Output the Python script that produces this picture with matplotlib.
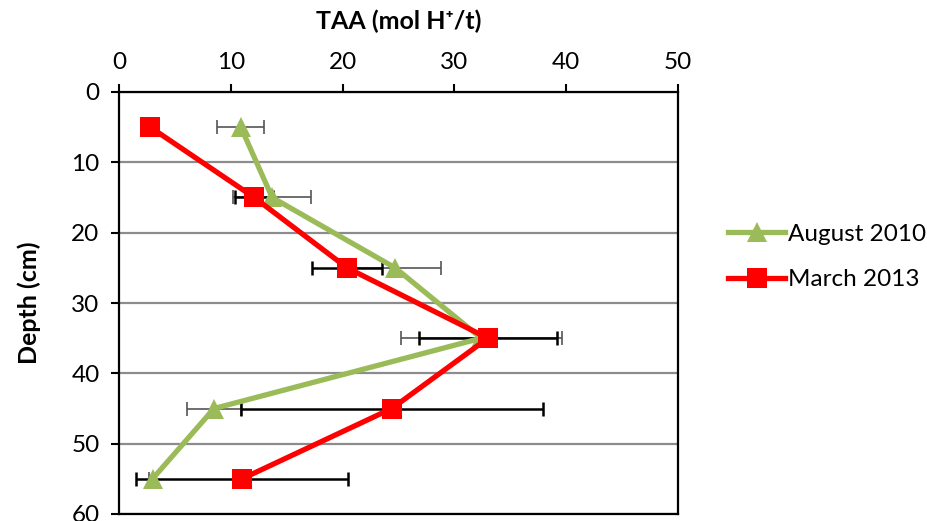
import matplotlib
matplotlib.use("Agg")
import matplotlib.pyplot as plt

depth = [5, 15, 25, 35, 45, 55]
aug_2010 = [10.9, 13.7, 24.7, 32.4, 8.5, 3.0]
aug_2010_err = [2.1, 3.5, 4.1, 7.2, 2.4, 0.3]
mar_2013 = [2.8, 12.1, 20.4, 33.0, 24.4, 11.0]
mar_2013_err = [0.5, 1.7, 3.1, 6.2, 13.5, 9.5]
x_ticks = [0, 10, 20, 30, 40, 50]
y_ticks = [0, 10, 20, 30, 40, 50, 60]

plt.rcParams['font.family'] = ['Lato', 'DejaVu Sans']

fig = plt.figure(figsize=(9.28, 5.21), dpi=100)
ax = fig.add_axes([119/928, 1-514/521, (678-119)/928, (514-92)/521])

green = '#9BBB59'
red = '#FF0000'

ax.errorbar(aug_2010, depth, xerr=aug_2010_err, fmt='none', ecolor='#555555',
            elinewidth=1.2, capsize=4.7, capthick=1.2, zorder=2)
ax.errorbar(mar_2013, depth, xerr=mar_2013_err, fmt='none', ecolor='black',
            elinewidth=1.8, capsize=4.7, capthick=1.8, zorder=2)
ax.plot(aug_2010, depth, color=green, lw=3.8, marker='^', ms=14,
        markeredgewidth=0, label='August 2010', zorder=3)
ax.plot(mar_2013, depth, color=red, lw=3.8, marker='s', ms=14,
        markeredgewidth=0, label='March 2013', zorder=4)

ax.set_xlim(0, 50)
ax.set_ylim(60, 0)
ax.set_xticks(x_ticks)
ax.set_yticks(y_ticks)
ax.xaxis.tick_top()
ax.xaxis.set_label_position('top')
ax.tick_params(axis='both', labelsize=17.5, width=1.5, length=6, direction='out')
ax.tick_params(axis='x', pad=8)
ax.tick_params(axis='y', pad=8)
ax.yaxis.grid(True, color='#8c8c8c', lw=1.6)
ax.set_axisbelow(True)
for s in ax.spines.values():
    s.set_linewidth(1.6)

ax.set_xlabel('TAA (mol H\u207a/t)', fontsize=18, fontweight='bold', labelpad=16)
ax.set_ylabel('Depth (cm)', fontsize=18, fontweight='bold', labelpad=22)

fig.legend(loc='center left', bbox_to_anchor=(728/928, 1-257/521), frameon=False,
           borderpad=0, borderaxespad=0,
           fontsize=17.5, handlelength=2.35, handletextpad=0.1, labelspacing=1.0)

fig.savefig('out.png', dpi=100)
